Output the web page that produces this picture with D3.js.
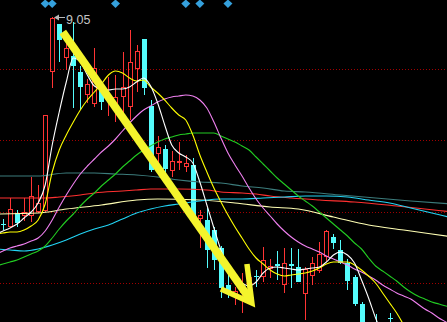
<!DOCTYPE html>
<html>
<head>
<meta charset="utf-8">
<script src="https://cdn.jsdelivr.net/npm/d3@7/dist/d3.min.js"></script>
<style>
  html, body { margin: 0; padding: 0; background: #000; overflow: hidden; }
  svg { display: block; }
</style>
</head>
<body>
<div id="chart"></div>
<script>
// 1: DATA (prices)
const opens  = [8.015, 8.005, 8.07, 8.06, 8.06, 8.08, 8.085, 8.78, 9.015, 8.85, 8.855, 8.775, 8.665, 8.62, 8.69, 8.635, 8.6, 8.655, 8.605, 8.795, 8.94, 8.605, 8.37, 8.39, 8.285, 8.325, 8.305, 8.31, 8.045, 8.035, 7.985, 7.895, 7.71, 7.66, 7.675, 7.735, 7.755, 7.755, 7.795, 7.815, 7.715, 7.815, 7.8, 7.67, 7.76, 7.785, 7.855, 7.95, 7.885, 7.82, 7.75, 7.615, 7.495, 7.525, 7.46, 7.545];
const highs  = [8.04, 8.145, 8.085, 8.145, 8.25, 8.21, 8.56, 9.05, 9.015, 8.925, 9.025, 8.805, 8.74, 8.895, 8.71, 8.75, 8.76, 8.875, 8.985, 8.91, 8.94, 8.635, 8.455, 8.41, 8.38, 8.425, 8.36, 8.345, 8.085, 8.095, 8.0, 7.905, 7.76, 7.7, 7.77, 7.755, 7.785, 7.9, 7.84, 7.88, 7.895, 7.895, 7.89, 7.8, 7.85, 7.925, 7.985, 7.965, 7.935, 7.84, 7.76, 7.625, 7.505, 7.565, 7.485, 7.57];
const lows   = [7.985, 8.005, 8.0, 8.03, 8.025, 8.07, 8.075, 8.695, 8.825, 8.785, 8.595, 8.585, 8.62, 8.6, 8.585, 8.555, 8.525, 8.535, 8.535, 8.675, 8.66, 8.275, 8.275, 8.27, 8.25, 8.285, 8.275, 8.02, 7.895, 7.795, 7.785, 7.645, 7.645, 7.61, 7.57, 7.65, 7.7, 7.725, 7.745, 7.735, 7.67, 7.695, 7.725, 7.535, 7.71, 7.77, 7.83, 7.89, 7.815, 7.685, 7.605, 7.465, 7.385, 7.41, 7.36, 7.495];
const closes = [8.012, 8.09, 8.02, 8.075, 8.155, 8.12, 8.56, 9.045, 8.935, 8.895, 8.805, 8.7, 8.715, 8.795, 8.625, 8.65, 8.65, 8.7, 8.825, 8.88, 8.695, 8.285, 8.4, 8.29, 8.33, 8.332, 8.32, 8.025, 8.06, 7.885, 7.835, 7.695, 7.675, 7.68, 7.695, 7.75, 7.752, 7.835, 7.805, 7.805, 7.82, 7.805, 7.725, 7.79, 7.82, 7.865, 7.98, 7.92, 7.82, 7.73, 7.615, 7.485, 7.41, 7.435, 7.385, 7.54];

// short moving averages, one value per candle, first value at index -1
const ma5 = [7.965, 7.98, 7.995, 8.015, 8.045, 8.075, 8.12, 8.21, 8.41, 8.575, 8.725, 8.845, 8.825, 8.76, 8.705, 8.69, 8.685, 8.69, 8.69, 8.7, 8.725, 8.745, 8.705, 8.62, 8.51, 8.41, 8.37, 8.35, 8.32, 8.225, 8.11, 7.995, 7.885, 7.8, 7.745, 7.72, 7.705, 7.725, 7.77, 7.795, 7.8, 7.795, 7.79, 7.785, 7.79, 7.795, 7.8, 7.825, 7.86, 7.875, 7.86, 7.82, 7.735, 7.645, 7.545, 7.46, 7.385];
const ma10 = [7.965, 7.97, 7.975, 7.975, 7.985, 8.005, 8.035, 8.115, 8.275, 8.385, 8.46, 8.525, 8.585, 8.635, 8.675, 8.715, 8.76, 8.78, 8.77, 8.745, 8.73, 8.735, 8.7, 8.67, 8.635, 8.595, 8.56, 8.535, 8.46, 8.36, 8.275, 8.195, 8.125, 8.06, 8.0, 7.945, 7.89, 7.845, 7.815, 7.785, 7.765, 7.755, 7.76, 7.765, 7.77, 7.78, 7.795, 7.815, 7.825, 7.825, 7.825, 7.81, 7.785, 7.755, 7.72, 7.67, 7.62, 7.57, 7.51];
const ma20 = [7.865, 7.88, 7.895, 7.905, 7.915, 7.93, 7.945, 7.98, 8.035, 8.1, 8.16, 8.215, 8.265, 8.305, 8.34, 8.375, 8.405, 8.44, 8.48, 8.52, 8.555, 8.585, 8.605, 8.625, 8.64, 8.65, 8.655, 8.66, 8.655, 8.635, 8.595, 8.525, 8.445, 8.37, 8.31, 8.255, 8.195, 8.14, 8.095, 8.055, 8.015, 7.98, 7.95, 7.925, 7.905, 7.89, 7.875, 7.855, 7.84, 7.825, 7.81, 7.79, 7.775, 7.755, 7.735, 7.71, 7.69, 7.67, 7.655, 7.64, 7.615, 7.59, 7.57, 7.545, 7.525, 7.5];
const ma30 = [7.805, 7.815, 7.825, 7.835, 7.85, 7.865, 7.88, 7.905, 7.945, 7.99, 8.03, 8.065, 8.105, 8.14, 8.17, 8.205, 8.235, 8.265, 8.3, 8.33, 8.36, 8.385, 8.405, 8.425, 8.44, 8.45, 8.46, 8.465, 8.47, 8.47, 8.47, 8.47, 8.455, 8.44, 8.425, 8.405, 8.385, 8.35, 8.315, 8.28, 8.245, 8.215, 8.185, 8.155, 8.13, 8.105, 8.075, 8.045, 8.015, 7.985, 7.955, 7.92, 7.89, 7.845, 7.805, 7.78, 7.755, 7.73, 7.7, 7.675, 7.655, 7.64, 7.625, 7.615, 7.605, 7.6];

// long moving averages, [candle index, price]
const ma60 = [[-1, 7.89], [1, 7.885], [3, 7.88], [5, 7.89], [7, 7.91], [9, 7.935], [11, 7.965], [13, 7.99], [15, 8.01], [17, 8.04], [19, 8.07], [21, 8.09], [23, 8.105], [25, 8.115], [28, 8.13], [31, 8.14], [34, 8.14], [37, 8.145], [40, 8.15], [43, 8.155], [46, 8.155], [49, 8.15], [52, 8.135], [55, 8.12], [58, 8.095], [61, 8.07], [64, 8.045]];
const ma120 = [[-1, 8.145], [6, 8.145], [8, 8.15], [11, 8.16], [13, 8.17], [17, 8.18], [19, 8.185], [21, 8.19], [25, 8.19], [29, 8.185], [31, 8.175], [34, 8.17], [36, 8.165], [38, 8.155], [41, 8.145], [45, 8.135], [50, 8.125], [56, 8.105], [60, 8.09], [64, 8.075]];
const ma250 = [[-1, 8.255], [5, 8.255], [9, 8.27], [13, 8.27], [16, 8.265], [19, 8.26], [22, 8.25], [25, 8.235], [28, 8.225], [31, 8.22], [34, 8.205], [37, 8.195], [40, 8.18], [43, 8.175], [48, 8.16], [53, 8.145], [58, 8.13], [64, 8.115]];
const ma500 = [[-1, 8.065], [5, 8.07], [9, 8.09], [14, 8.11], [19, 8.135], [22, 8.14], [28, 8.135], [33, 8.12], [38, 8.1], [42, 8.09], [47, 8.05], [52, 8.01], [57, 7.985], [64, 7.95]];

const gridPrices = [8.79, 8.435, 8.075, 7.72];
const signalIdx = [6, 7, 16, 26, 28, 32];
const topLabel = { idx: 7, price: 9.05, text: "9.05" };
// trend arrow, [candle index, price]
const arrowShaft = [[8.5, 8.975], [35.1, 7.64]];
const arrowHead = [[34.7, 7.815], [35.4, 7.62], [31.0, 7.69]];

// 2: SETUP
const width = 447, height = 322;
const svg = d3.select("#chart").append("svg")
    .attr("width", width)
    .attr("height", height)
    .style("background", "#000");

const x = d3.scaleLinear().domain([0, 63]).range([3, 445.9]);
const y = d3.scaleLinear().domain([7.525, 9.135]).range([height, 0]);

// dotted grid
svg.selectAll(".grid")
    .data(gridPrices)
    .join("line")
    .attr("x1", 0).attr("x2", width)
    .attr("y1", d => Math.round(y(d)) + 0.5)
    .attr("y2", d => Math.round(y(d)) + 0.5)
    .attr("stroke", "#a00000")
    .attr("stroke-dasharray", "1,2");

// 3: CANDLES
const candles = opens.map((o, i) => ({ i, o, h: highs[i], l: lows[i], c: closes[i] }));
const cg = svg.append("g");
cg.selectAll("g.candle")
    .data(candles)
    .join("g")
    .attr("class", "candle")
    .each(function(d) {
        const g = d3.select(this);
        const cx = Math.round(x(d.i));
        const up = d.c >= d.o;
        const top = Math.round(y(Math.max(d.o, d.c)));
        const bot = Math.round(y(Math.min(d.o, d.c)));
        const hy = Math.round(y(d.h)), ly = Math.round(y(d.l));
        if (up) {
            const col = "#ff3434";
            if (hy < top) g.append("line").attr("x1", cx + 0.5).attr("x2", cx + 0.5).attr("y1", hy).attr("y2", top).attr("stroke", col);
            if (ly > bot) g.append("line").attr("x1", cx + 0.5).attr("x2", cx + 0.5).attr("y1", bot + 1).attr("y2", ly).attr("stroke", col);
            g.append("rect")
                .attr("x", cx - 1.5).attr("y", top + 0.5)
                .attr("width", 4).attr("height", Math.max(bot - top, 0))
                .attr("fill", "none").attr("stroke", col);
        } else {
            const col = "#54fcfc";
            g.append("line").attr("x1", cx + 0.5).attr("x2", cx + 0.5).attr("y1", hy).attr("y2", ly).attr("stroke", col);
            g.append("rect")
                .attr("x", cx - 2).attr("y", top)
                .attr("width", 5).attr("height", Math.max(bot - top, 1))
                .attr("fill", col);
        }
    });

// 4: MOVING AVERAGES
const line = d3.line()
    .x(d => x(d[0]))
    .y(d => y(d[1]))
    .curve(d3.curveMonotoneX);
const dense = arr => arr.map((v, k) => [k - 1, v]);

const maLines = [
    { pts: ma500, color: "#ffffb4" },
    { pts: ma250, color: "#3c7c7c" },
    { pts: ma120, color: "#ff3030" },
    { pts: ma60, color: "#22d4f4" },
    { pts: dense(ma30), color: "#22cc22" },
    { pts: dense(ma20), color: "#f080f0" },
    { pts: dense(ma10), color: "#ffff00" },
    { pts: dense(ma5), color: "#ffffff" }
];
svg.selectAll(".ma")
    .data(maLines)
    .join("path")
    .attr("class", "ma")
    .attr("d", d => line(d.pts))
    .attr("fill", "none")
    .attr("stroke", d => d.color)
    .attr("stroke-width", 1.1);

// 5: SIGNAL DIAMONDS
svg.selectAll(".sig")
    .data(signalIdx)
    .join("path")
    .attr("d", d => {
        const cx = x(d);
        return `M${cx},-0.5 L${cx + 4.5},3.5 L${cx},8 L${cx - 4.5},3.5 Z`;
    })
    .attr("fill", "#35a0dc");

// high price label
const lx = Math.round(x(topLabel.idx)), ly = Math.round(y(topLabel.price)) + 0.5;
svg.append("line")
    .attr("x1", lx + 4).attr("x2", lx + 13)
    .attr("y1", ly).attr("y2", ly)
    .attr("stroke", "#b8b8b8");
svg.append("path")
    .attr("d", `M${lx + 2},${ly} L${lx + 7},${ly - 3} L${lx + 7},${ly + 3} Z`)
    .attr("fill", "#b8b8b8");
svg.append("text")
    .attr("x", lx + 14)
    .attr("y", ly + 6)
    .attr("fill", "#c4c4c4")
    .style("font-family", "'Liberation Sans', Arial, sans-serif")
    .style("font-size", "12.5px")
    .text(topLabel.text);

// 6: TREND ARROW
const straight = d3.line().x(d => x(d[0])).y(d => y(d[1]));
svg.append("path")
    .attr("d", straight(arrowShaft))
    .attr("fill", "none")
    .attr("stroke", "#f4f42c")
    .attr("stroke-width", 8);
svg.append("path")
    .attr("d", straight(arrowHead))
    .attr("fill", "none")
    .attr("stroke", "#f4f42c")
    .attr("stroke-width", 5.5)
    .attr("stroke-linejoin", "miter");
</script>
</body>
</html>
